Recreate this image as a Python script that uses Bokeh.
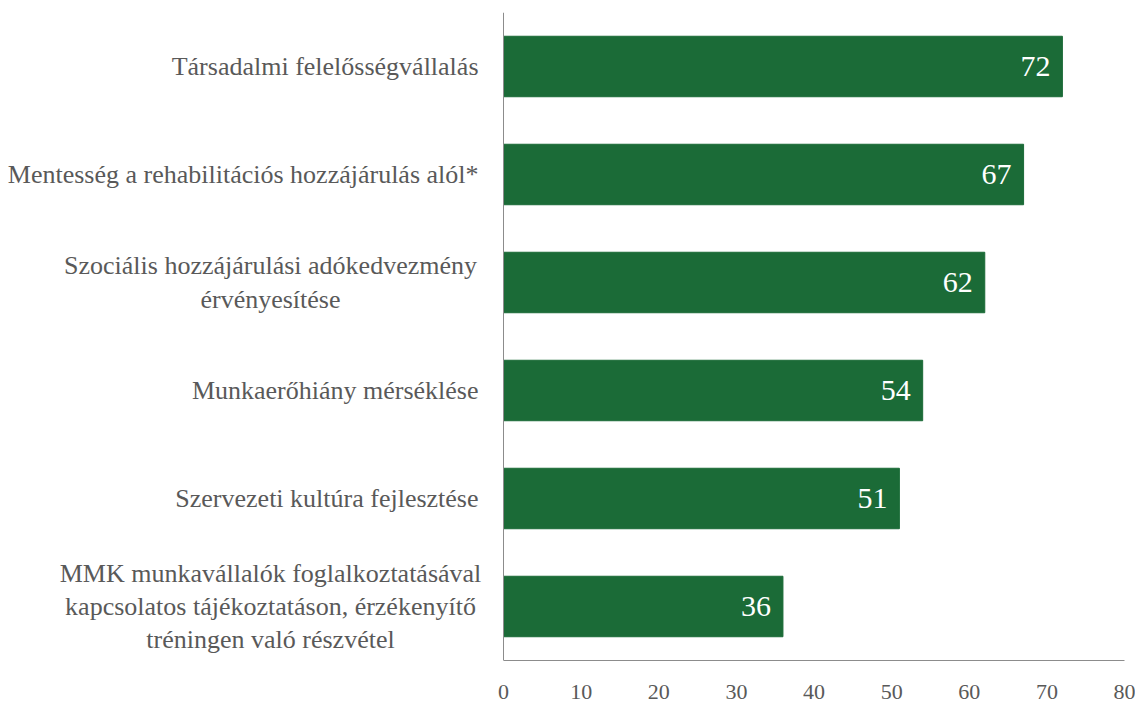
from bokeh.plotting import figure
from bokeh.models import ColumnDataSource, Range1d, FixedTicker, Span
from bokeh.embed import file_html
from bokeh.resources import INLINE
from bokeh.core.properties import value

categories = [
    "Társadalmi felelősségvállalás",
    "Mentesség a rehabilitációs hozzájárulás alól*",
    "Szociális hozzájárulási adókedvezmény\nérvényesítése",
    "Munkaerőhiány mérséklése",
    "Szervezeti kultúra fejlesztése",
    "MMK munkavállalók foglalkoztatásával\nkapcsolatos tájékoztatáson, érzékenyítő\ntréningen való részvétel",
]
values = [72, 67, 62, 54, 51, 36]
x_ticks = [0, 10, 20, 30, 40, 50, 60, 70, 80]

GREEN = "#1b6b37"
GRAY_TXT = "#595959"
AXIS_COL = "#8c8c8c"
SERIF = "Liberation Serif"
CAT_SIZE = "26px"

n = len(categories)
ypos = [n - 1 - i for i in range(n)]  # first category on top

src = ColumnDataSource(dict(y=ypos, val=values, lab=[str(v) for v in values]))
single = [(y, c) for y, c in zip(ypos, categories) if "\n" not in c]
multi = [(y, c) for y, c in zip(ypos, categories) if "\n" in c]
src_single = ColumnDataSource(dict(y=[s[0] for s in single], t=[s[1] for s in single], x=[0] * len(single)))
src_multi = ColumnDataSource(dict(y=[m[0] for m in multi], t=[m[1] for m in multi], x=[0] * len(multi)))

# the label column is part of the frame: x from about -64.8 (left page edge) to 80
p = figure(
    width=1135, height=705,
    y_range=Range1d(-0.5, n - 0.5),
    x_range=Range1d(-64.8, 80),
    y_axis_location=None,
    output_backend="svg", toolbar_location=None,
    min_border_left=0, min_border_right=11, min_border_top=12, min_border_bottom=45,
)
p.outline_line_color = None
p.xgrid.grid_line_color = None
p.ygrid.grid_line_color = None

p.hbar(y="y", right="val", left=0, height=0.56, source=src,
       fill_color=GREEN, line_color=GREEN)

p.text(x="val", y="y", text="lab", source=src, x_offset=-12,
       text_align="right", text_baseline="middle", text_color="white",
       text_font=value(SERIF), text_font_size="30px")

# vertical category axis line at x = 0
p.add_layout(Span(location=0, dimension="height", line_color=AXIS_COL, line_width=1))

# category labels: single-line ones right-aligned next to the axis,
# multi-line ones centred line by line
p.text(x="x", y="y", text="t", source=src_single, x_offset=-25,
       text_align="right", text_baseline="middle", text_color=GRAY_TXT,
       text_font=value(SERIF), text_font_size=CAT_SIZE)
p.text(x="x", y="y", text="t", source=src_multi, x_offset=-233,
       text_align="center", text_baseline="middle", text_color=GRAY_TXT,
       text_font=value(SERIF), text_font_size=CAT_SIZE, text_line_height=1.15)

ax = p.xaxis[0]
ax.bounds = (0, 80)
ax.axis_line_color = AXIS_COL
ax.axis_line_width = 1
ax.major_tick_line_color = None
ax.minor_tick_line_color = None
ax.major_label_text_color = GRAY_TXT
ax.major_label_text_font = SERIF
ax.ticker = FixedTicker(ticks=x_ticks)
ax.major_label_text_font_size = "22px"
ax.major_label_standoff = 18

open("out.html", "w").write(file_html(p, INLINE))
